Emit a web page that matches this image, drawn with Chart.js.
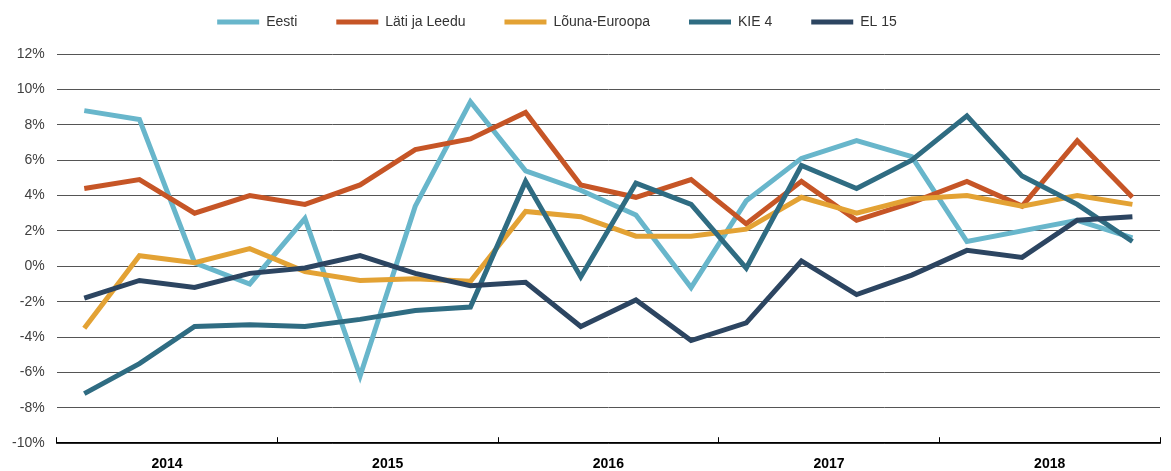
<!DOCTYPE html>
<html>
<head>
<meta charset="utf-8">
<script src="https://cdn.jsdelivr.net/npm/chart.js@4.4.1/dist/chart.umd.min.js"></script>
<style>
    html, body { margin: 0; padding: 0; background: #fff; }
</style>
</head>
<body>
<canvas id="myChart" width="1171" height="471"></canvas>
<script>
// Aastad (iga aasta = 4 kvartalit)
const years = ['2014', '2015', '2016', '2017', '2018'];

// Kvartaalsed väärtused, %
const eesti        = [8.8, 8.3, 0.2, -1.0, 2.7, -6.2, 3.4, 9.3, 5.4, 4.3, 2.9, -1.2, 3.7, 6.1, 7.1, 6.2, 1.4, 2.0, 2.6, 1.6];
const latiLeedu    = [4.4, 4.9, 3.0, 4.0, 3.5, 4.6, 6.6, 7.2, 8.7, 4.6, 3.9, 4.9, 2.4, 4.8, 2.6, 3.6, 4.8, 3.4, 7.1, 3.9];
const lounaEuroopa = [-3.5, 0.6, 0.2, 1.0, -0.3, -0.8, -0.7, -0.85, 3.1, 2.8, 1.7, 1.7, 2.1, 3.9, 3.0, 3.8, 4.0, 3.4, 4.0, 3.5];
const kie4         = [-7.2, -5.5, -3.4, -3.3, -3.4, -3.0, -2.5, -2.3, 4.8, -0.6, 4.7, 3.5, -0.1, 5.7, 4.4, 6.0, 8.5, 5.1, 3.5, 1.4];
const el15         = [-1.8, -0.8, -1.2, -0.4, -0.1, 0.6, -0.4, -1.1, -0.9, -3.4, -1.9, -4.2, -3.2, 0.3, -1.6, -0.5, 0.9, 0.5, 2.6, 2.8];

const seriesNames  = ['Eesti', 'Läti ja Leedu', 'Lõuna-Euroopa', 'KIE 4', 'EL 15'];
const seriesValues = [eesti, latiLeedu, lounaEuroopa, kie4, el15];
const seriesColors = ['#68b6cb', '#c65526', '#e3a234', '#2f6c82', '#2c4561'];

const yTicks = { min: -10, max: 12, step: 2 };
const fontFamily = '"Liberation Sans", Arial, sans-serif';

// legend: kõrguse parandus (padding mõjutab ka vertikaali) + nihe vasakule
const legendFit = {
    id: 'legendFit',
    beforeInit(chart) {
        const origFit = chart.legend.fit;
        chart.legend.fit = function () {
            origFit.call(this);
            this.height = 78;
        };
    },
    afterLayout(chart) {
        chart.legend.left -= 46;
    }
};

let datasets = seriesNames.map((name, s) => ({
    label: name,
    data: seriesValues[s].map((v, i) => ({ x: i + 0.5, y: v })),
    borderColor: seriesColors[s],
    backgroundColor: seriesColors[s],
    borderWidth: 5,
    borderJoinStyle: 'miter',
    borderCapStyle: 'butt',
    pointRadius: 0,
    tension: 0,
    order: seriesNames.length - s
}));

let ctx = document.getElementById('myChart');
let myChart = new Chart(ctx, {
    type: 'line',
    data: { datasets: datasets },
    plugins: [legendFit],
    options: {
        responsive: false,
        animation: false,
        devicePixelRatio: 1,
        layout: {
            padding: { top: -24, left: 0, right: 11, bottom: -21 }
        },
        plugins: {
            tooltip: { enabled: false },
            legend: {
                position: 'top',
                reverse: true,
                labels: {
                    boxWidth: 42,
                    boxHeight: 5,
                    padding: 39,
                    color: '#333',
                    font: { family: fontFamily, size: 14 },
                    generateLabels: (chart) => Chart.defaults.plugins.legend.labels.generateLabels(chart)
                        .map(item => Object.assign(item, { lineWidth: 0, strokeStyle: 'rgba(0,0,0,0)' }))
                }
            }
        },
        scales: {
            x: {
                type: 'linear',
                min: 0,
                max: years.length * 4,
                afterFit: (scale) => { scale.paddingRight = 0; },
                ticks: {
                    stepSize: 2,
                    autoSkip: false,
                    maxRotation: 0,
                    padding: 19,
                    color: '#000',
                    font: { family: fontFamily, size: 14, weight: 'bold' },
                    callback: (v) => (v % 4 === 2 ? years[(v - 2) / 4] : '')
                },
                grid: {
                    drawOnChartArea: false,
                    drawTicks: true,
                    tickLength: -6,
                    tickWidth: 1,
                    tickColor: (c) => (c.tick && c.tick.value % 4 === 0 ? '#000' : 'rgba(0,0,0,0)')
                },
                border: { color: '#000', width: 1.5 }
            },
            y: {
                min: yTicks.min,
                max: yTicks.max,
                ticks: {
                    stepSize: yTicks.step,
                    padding: 12,
                    color: '#404040',
                    font: { family: fontFamily, size: 14 },
                    callback: (v) => v + '%'
                },
                grid: { color: '#555', lineWidth: 1, drawTicks: false },
                border: { display: false }
            }
        }
    }
});
</script>
</body>
</html>
